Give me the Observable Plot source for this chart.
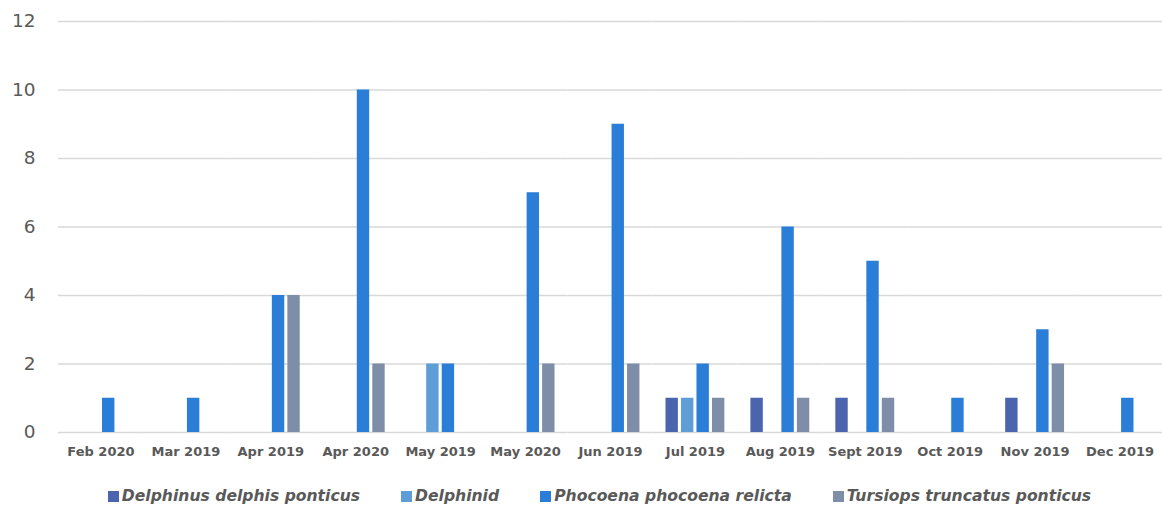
<!DOCTYPE html>
<html><head><meta charset="utf-8">
<script src="https://cdn.jsdelivr.net/npm/d3@7"></script>
<script src="https://cdn.jsdelivr.net/npm/@observablehq/plot@0.6"></script>
<style>
body{margin:0;background:#fff;font-family:"DejaVu Sans",sans-serif;}
#legend{display:flex;justify-content:center;gap:41px;margin-left:37px;margin-top:17px;font-style:italic;font-weight:bold;font-size:15.6px;color:#595959;}
#legend span.item{display:flex;align-items:center;}
#legend span.sw{display:inline-block;width:11px;height:11px;margin-right:3px;}
</style></head>
<body><div id="chart"></div><div id="legend"></div>
<script>
const months = ["Feb 2020","Mar 2019","Apr 2019","Apr 2020","May 2019","May 2020","Jun 2019","Jul 2019","Aug 2019","Sept 2019","Oct 2019","Nov 2019","Dec 2019"];
const series = ["Delphinus delphis ponticus","Delphinid","Phocoena phocoena relicta","Tursiops truncatus ponticus"];
const colors = ["#4a65ae","#5e9dd6","#2a7ed8","#7f8ea8"];
const delphinus = [0,0,0,0,0,0,0,1,1,1,0,1,0];
const delphinid = [0,0,0,0,2,0,0,1,0,0,0,0,0];
const phocoena  = [1,1,4,10,2,7,9,2,6,5,1,3,1];
const tursiops  = [0,0,4,2,0,2,2,1,1,1,0,2,0];
const yTicks = [0,2,4,6,8,10,12];

const values = [delphinus, delphinid, phocoena, tursiops];
const data = [];
months.forEach((m,i)=>series.forEach((s,j)=>{ if(values[j][i]>0) data.push({month:m, series:s, value:values[j][i]}); }));

const chart = Plot.plot({
  width:1162, height:470,
  marginLeft:58, marginRight:0, marginTop:21, marginBottom:38,
  style:{fontFamily:"DejaVu Sans, sans-serif", color:"#595959", background:"#fff"},
  fx:{domain:months, padding:0, round:false, label:null, axis:null},
  x:{domain:series, paddingInner:0.2, paddingOuter:0.84, round:false, axis:null},
  y:{domain:[0,12], ticks:yTicks, label:null, axis:null},
  color:{domain:series, range:colors},
  marks:[
    Plot.ruleY(yTicks, {stroke:"#d9d9d9", strokeWidth:1.5}),
    Plot.barY(data, {fx:"month", x:"series", y:"value", fill:"series"}),
    Plot.axisY({ticks:yTicks, tickSize:0, tickPadding:23, fontSize:18.5, anchor:"left"}),
    Plot.axisFx({tickSize:0, tickPadding:14, fontSize:13, fontWeight:"bold", anchor:"bottom"})
  ]
});
document.getElementById("chart").appendChild(chart);
const leg = document.getElementById("legend");
series.forEach((s,i)=>{
  const it=document.createElement("span"); it.className="item";
  const sw=document.createElement("span"); sw.className="sw"; sw.style.background=colors[i];
  it.appendChild(sw); it.appendChild(document.createTextNode(s)); leg.appendChild(it);
});
</script></body></html>
